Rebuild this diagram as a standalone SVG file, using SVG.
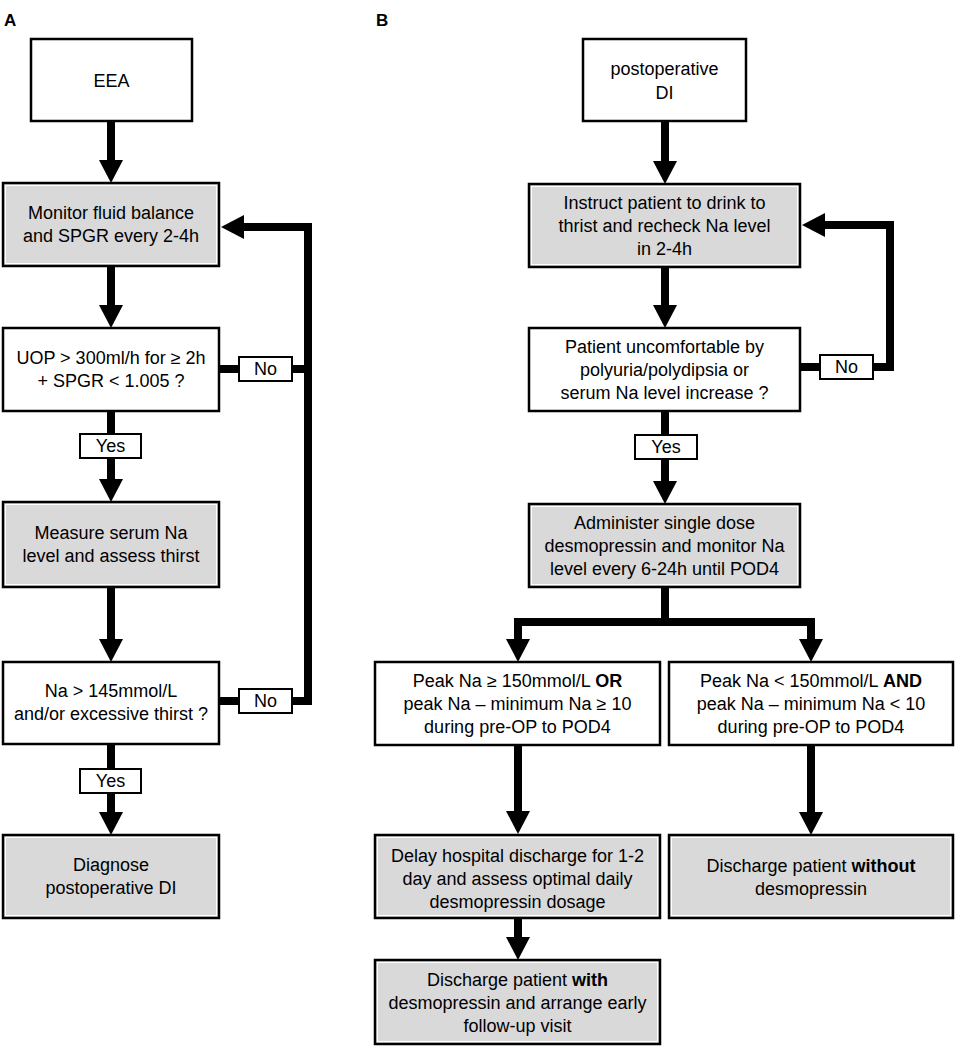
<svg xmlns="http://www.w3.org/2000/svg" width="957" height="1046" viewBox="0 0 957 1046">
<style>
  .box{fill:#ffffff;stroke:#000;stroke-width:2.5}
  .gbox{fill:#d9d9d9;stroke:#000;stroke-width:2.5}
  .inner{fill:none;stroke:#ffffff;stroke-width:1}
  .lbl{fill:#ffffff;stroke:#000;stroke-width:2}
  text{font-family:"Liberation Sans",Arial,sans-serif;font-size:18px;fill:#000;text-anchor:middle}
  .panel{font-size:17px;font-weight:bold;text-anchor:start}
  .c{fill:none;stroke:#000;stroke-width:8;stroke-linejoin:miter;stroke-linecap:butt}
  .b{font-weight:bold}
</style>
<defs>
  <marker id="ah" markerUnits="userSpaceOnUse" markerWidth="23" markerHeight="24" viewBox="0 0 23 24" refX="0" refY="12" orient="auto">
    <path d="M0,0 L23,12 L0,24 Z" fill="#000"/>
  </marker>
</defs>
<rect width="957" height="1046" fill="#ffffff"/>
<text class="panel" x="4" y="26">A</text>
<text class="panel" x="376" y="26">B</text>

<g id="connectors">
  <!-- Panel A -->
  <path class="c" d="M111,121 V160" marker-end="url(#ah)"/>
  <path class="c" d="M111,266 V305" marker-end="url(#ah)"/>
  <path class="c" d="M111,411 V434"/>
  <path class="c" d="M111,458 V479" marker-end="url(#ah)"/>
  <path class="c" d="M111,587 V639" marker-end="url(#ah)"/>
  <path class="c" d="M111,744 V769"/>
  <path class="c" d="M111,792 V812" marker-end="url(#ah)"/>
  <path class="c" d="M219,369 H239"/>
  <path class="c" d="M291,369 H308"/>
  <path class="c" d="M219,701 H239"/>
  <path class="c" d="M291,701 H308 V227 H244" marker-end="url(#ah)"/>
  <!-- Panel B -->
  <path class="c" d="M665,121 V161" marker-end="url(#ah)"/>
  <path class="c" d="M665,267 V305" marker-end="url(#ah)"/>
  <path class="c" d="M665,411 V435"/>
  <path class="c" d="M665,458 V481" marker-end="url(#ah)"/>
  <path class="c" d="M665,587 V626"/>
  <path class="c" d="M665,622 H518 V639" marker-end="url(#ah)"/>
  <path class="c" d="M665,622 H811 V639" marker-end="url(#ah)"/>
  <path class="c" d="M518,745 V811" marker-end="url(#ah)"/>
  <path class="c" d="M811,745 V812" marker-end="url(#ah)"/>
  <path class="c" d="M518,918 V937" marker-end="url(#ah)"/>
  <path class="c" d="M800,367 H820"/>
  <path class="c" d="M872,367 H890 V225 H825" marker-end="url(#ah)"/>
</g>

<!-- Panel A nodes -->
<g id="eea">
  <rect class="box" x="31" y="39" width="161" height="82"/>
  <text x="111.5" y="87">EEA</text>
</g>
<g id="monitor">
  <rect class="gbox" x="3" y="183" width="216" height="83"/>
  <rect class="inner" x="5.5" y="185.5" width="211" height="78"/>
  <text x="111" y="219">Monitor fluid balance</text>
  <text x="111" y="242">and SPGR every 2-4h</text>
</g>
<g id="uop">
  <rect class="box" x="3" y="328" width="216" height="83"/>
  <text x="111" y="364">UOP &gt; 300ml/h for ≥ 2h</text>
  <text x="111" y="387">+ SPGR &lt; 1.005 ?</text>
</g>
<g id="noA1">
  <rect class="lbl" x="239" y="357" width="53" height="24"/>
  <text x="265.5" y="375">No</text>
</g>
<g id="yesA1">
  <rect class="lbl" x="80" y="434" width="61" height="24"/>
  <text x="110.5" y="452">Yes</text>
</g>
<g id="measure">
  <rect class="gbox" x="3" y="502" width="216" height="85"/>
  <rect class="inner" x="5.5" y="504.5" width="211" height="80"/>
  <text x="111" y="539">Measure serum Na</text>
  <text x="111" y="562">level and assess thirst</text>
</g>
<g id="na">
  <rect class="box" x="3" y="662" width="216" height="82"/>
  <text x="111" y="697">Na &gt; 145mmol/L</text>
  <text x="111" y="720">and/or excessive thirst ?</text>
</g>
<g id="noA2">
  <rect class="lbl" x="239" y="689" width="53" height="24"/>
  <text x="265.5" y="707">No</text>
</g>
<g id="yesA2">
  <rect class="lbl" x="80" y="769" width="61" height="24"/>
  <text x="110.5" y="787">Yes</text>
</g>
<g id="diagnose">
  <rect class="gbox" x="3" y="835" width="216" height="83"/>
  <rect class="inner" x="5.5" y="837.5" width="211" height="78"/>
  <text x="111" y="871">Diagnose</text>
  <text x="111" y="894">postoperative DI</text>
</g>

<!-- Panel B nodes -->
<g id="postopDI">
  <rect class="box" x="583" y="39" width="163" height="82"/>
  <text x="664.5" y="75">postoperative</text>
  <text x="664.5" y="99">DI</text>
</g>
<g id="instruct">
  <rect class="gbox" x="529" y="184" width="271" height="83"/>
  <rect class="inner" x="531.5" y="186.5" width="266" height="78"/>
  <text x="664.5" y="209">Instruct patient to drink to</text>
  <text x="664.5" y="232">thrist and recheck Na level</text>
  <text x="664.5" y="255">in 2-4h</text>
</g>
<g id="patient">
  <rect class="box" x="529" y="328" width="271" height="83"/>
  <text x="664.5" y="353">Patient uncomfortable by</text>
  <text x="664.5" y="376">polyuria/polydipsia or</text>
  <text x="664.5" y="399">serum Na level increase ?</text>
</g>
<g id="noB">
  <rect class="lbl" x="820" y="355" width="53" height="24"/>
  <text x="846.5" y="373">No</text>
</g>
<g id="yesB">
  <rect class="lbl" x="635" y="435" width="62" height="24"/>
  <text x="666" y="453">Yes</text>
</g>
<g id="administer">
  <rect class="gbox" x="529" y="504" width="271" height="83"/>
  <rect class="inner" x="531.5" y="506.5" width="266" height="78"/>
  <text x="664.5" y="529">Administer single dose</text>
  <text x="664.5" y="552">desmopressin and monitor Na</text>
  <text x="664.5" y="575">level every 6-24h until POD4</text>
</g>
<g id="peakHigh">
  <rect class="box" x="375" y="662" width="285" height="83"/>
  <text x="517.5" y="687">Peak Na ≥ 150mmol/L <tspan class="b">OR</tspan></text>
  <text x="517.5" y="710">peak Na – minimum Na ≥ 10</text>
  <text x="517.5" y="733">during pre-OP to POD4</text>
</g>
<g id="peakLow">
  <rect class="box" x="669" y="662" width="284" height="83"/>
  <text x="811" y="687">Peak Na &lt; 150mmol/L <tspan class="b">AND</tspan></text>
  <text x="811" y="710">peak Na – minimum Na &lt; 10</text>
  <text x="811" y="733">during pre-OP to POD4</text>
</g>
<g id="delay">
  <rect class="gbox" x="375" y="835" width="285" height="83"/>
  <rect class="inner" x="377.5" y="837.5" width="280" height="78"/>
  <text x="517.5" y="862">Delay hospital discharge for 1-2</text>
  <text x="517.5" y="885">day and assess optimal daily</text>
  <text x="517.5" y="908">desmopressin dosage</text>
</g>
<g id="dischargeWithout">
  <rect class="gbox" x="669" y="835" width="284" height="83"/>
  <rect class="inner" x="671.5" y="837.5" width="279" height="78"/>
  <text x="811" y="872">Discharge patient <tspan class="b">without</tspan></text>
  <text x="811" y="895">desmopressin</text>
</g>
<g id="dischargeWith">
  <rect class="gbox" x="375" y="960" width="285" height="84"/>
  <rect class="inner" x="377.5" y="962.5" width="280" height="79"/>
  <text x="517.5" y="986">Discharge patient <tspan class="b">with</tspan></text>
  <text x="517.5" y="1009">desmopressin and arrange early</text>
  <text x="517.5" y="1032">follow-up visit</text>
</g>
</svg>
